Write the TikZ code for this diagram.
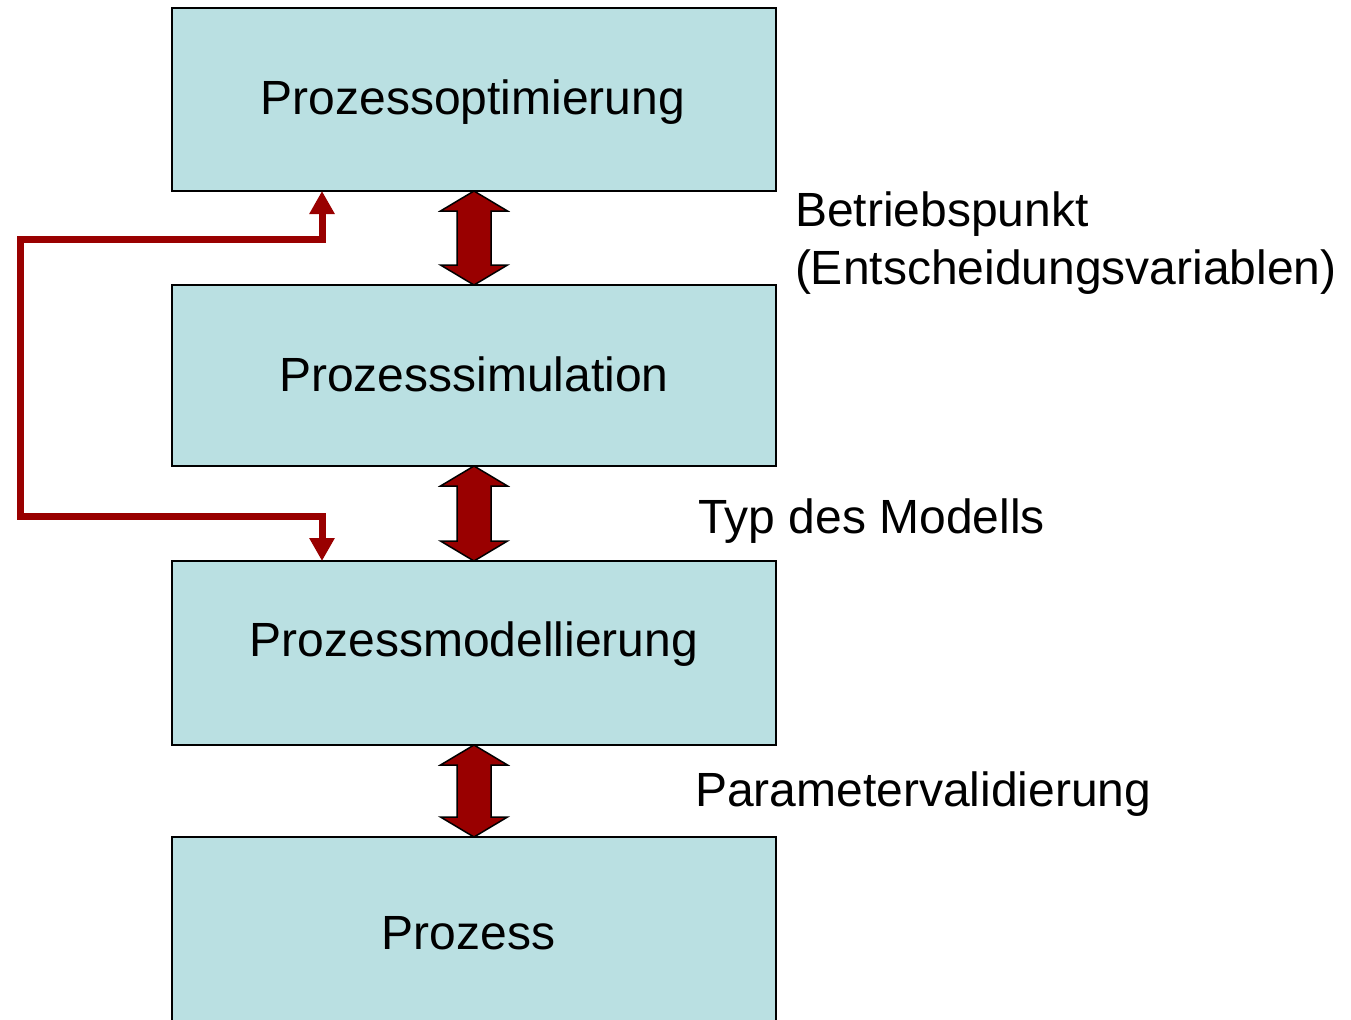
\documentclass[tikz,border=0pt]{standalone}
\usepackage{fontspec}
\setmainfont{Liberation Sans}
\usetikzlibrary{arrows.meta}
\definecolor{boxfill}{RGB}{186,224,226}
\definecolor{darkred}{RGB}{153,0,0}
\begin{document}
\begin{tikzpicture}[x=0.5pt,y=-0.5pt,
  box/.style={draw=black, line width=1pt, fill=boxfill, minimum width=302pt, inner sep=0pt, outer sep=0pt},
  txt/.style={inner sep=0pt, outer sep=0pt, font=\fontsize{24pt}{29pt}\selectfont},
  dbl/.style={fill=darkred, draw=black, line width=0.75pt, line join=miter},
  fb/.style={draw=darkred, line width=3.5pt, line join=miter, {Triangle[length=11.5pt,width=12pt]}-{Triangle[length=11.5pt,width=12pt]}}]
\useasboundingbox (0,0) rectangle (1351,1019);
\clip (0,0) rectangle (1351,1019);
% boxes
\node[box, minimum height=91.5pt] (opt) at (474,99.5) {};
\node[box, minimum height=90.5pt] (sim) at (474,375.5) {};
\node[box, minimum height=92pt] (mod) at (474,653) {};
\node[box, minimum height=99pt] (proz) at (474,936) {};
% box texts
\node[txt, anchor=base] (toptxt) at (473,114) {Prozessoptimierung};
\node[txt, anchor=base] (simtxt) at (474,391) {Prozesssimulation};
\node[txt, anchor=base] (modtxt) at (474,656) {Prozessmodellierung};
\node[txt, anchor=base] (proztxt) at (468.5,949) {Prozess};
% side labels
\node[txt, anchor=base west] (l1a) at (795,226) {Betriebspunkt};
\node[txt, anchor=base west] (l1b) at (795,284) {(Entscheidungsvariablen)};
\node[txt, anchor=base west] (l2) at (698,533) {Typ des Modells};
\node[txt, anchor=base west] (l3) at (695,806) {Parametervalidierung};
% double arrows
\foreach \a/\b in {opt/sim, sim/mod, mod/proz}{
  \draw[dbl] (\a.south) -- ([shift={(33.5,20)}]\a.south) -- ([shift={(17,20)}]\a.south)
    -- ([shift={(17,-20)}]\b.north) -- ([shift={(33.5,-20)}]\b.north) -- (\b.north)
    -- ([shift={(-33.5,-20)}]\b.north) -- ([shift={(-17,-20)}]\b.north)
    -- ([shift={(-17,20)}]\a.south) -- ([shift={(-33.5,20)}]\a.south) -- cycle;
}
% feedback loop
\coordinate (xp) at (322,0);
\coordinate (lt) at (20,239);
\coordinate (lb) at (20,516);
\draw[fb] (opt.south -| xp) |- (lt) -- (lb) -| (mod.north -| xp);
\end{tikzpicture}
\end{document}
